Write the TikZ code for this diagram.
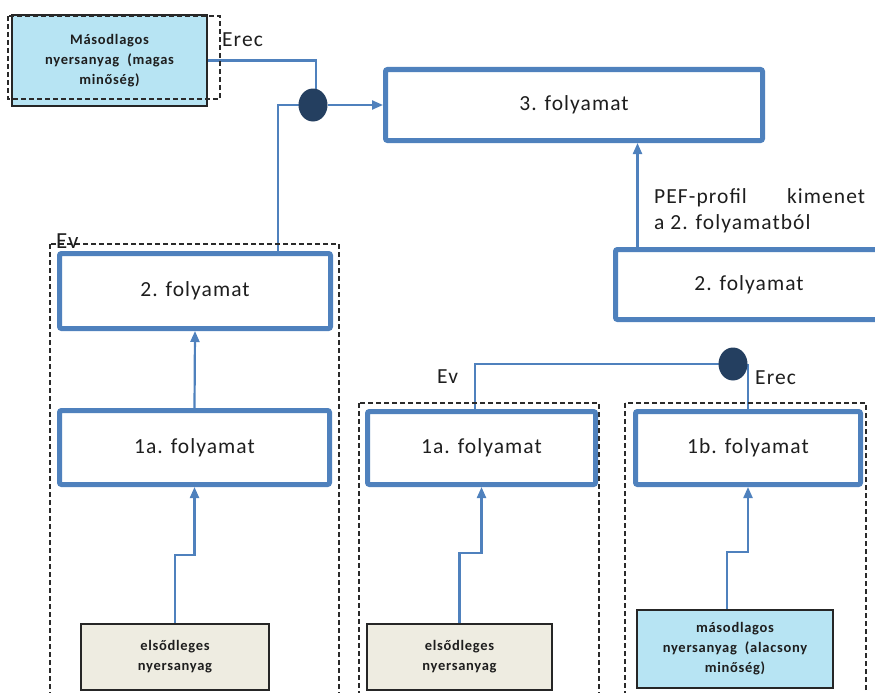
\documentclass[tikz,border=0pt]{standalone}
\usepackage{fontspec}
\setmainfont{Carlito}
\newfontfamily\procfont{Carlito}[LetterSpace=5.0]
\usetikzlibrary{arrows.meta,shapes.geometric,backgrounds}
\definecolor{procblue}{HTML}{4F81BD}
\definecolor{navy}{HTML}{243F60}
\definecolor{tanfill}{HTML}{EEECE1}
\definecolor{lblue}{HTML}{B7E4F3}
\definecolor{edge}{HTML}{262626}
\definecolor{txt}{HTML}{1E1E1E}
\definecolor{dashc}{HTML}{2A2A2A}
\begin{document}
\begin{tikzpicture}[x=1pt,y=-1pt,
  proc/.style={draw=procblue, line width=5pt, rounded corners=2pt, fill=white,
    font=\procfont\fontsize{21.5}{26}\selectfont, text=txt, inner sep=0pt},
  raw/.style={draw=edge, line width=1.5pt, fill=tanfill, text=txt, align=center,
    font=\procfont\bfseries\fontsize{14.5}{20}\selectfont, inner sep=0pt},
  junction/.style={ellipse, fill=navy, minimum width=29pt, minimum height=33pt, inner sep=0pt},
  conn/.style={draw=procblue, line width=2.2pt},
  arr/.style={conn, -{Triangle[length=11pt,width=9pt]}},
  dashbox/.style={draw=dashc, line width=1.3pt, dash pattern=on 5pt off 3pt},
  lbl/.style={font=\procfont\fontsize{21.5}{26}\selectfont, text=txt, anchor=base west, inner sep=0pt}]
\path[use as bounding box] (0,0) rectangle (875,693);
\clip (0,0) rectangle (875,693);

% process boxes
\node[proc, minimum width=377pt, minimum height=71pt] (p3) at (574,105) {3. folyamat};
\node[proc, minimum width=267pt, minimum height=70pt] (p2r) at (749,284.5) {2. folyamat};
\node[proc, minimum width=271pt, minimum height=75pt] (p2l) at (195,291) {2. folyamat};
\node[proc, minimum width=270pt, minimum height=74pt] (p1al) at (194.5,447.5) {1a. folyamat};
\node[proc, minimum width=228pt, minimum height=73pt] (p1am) at (481.5,448) {1a. folyamat};
\node[proc, minimum width=225pt, minimum height=73pt] (p1b) at (748,448) {1b. folyamat};

% raw material boxes
\node[raw, fill=lblue, minimum width=195pt, minimum height=91pt] (mhi) at (109.5,60.5)
  {Másodlagos\\nyersanyag\ \ (magas\\minőség)};
\node[raw, minimum width=188pt, minimum height=66pt] (r1) at (175,657) {elsődleges\\nyersanyag};
\node[raw, minimum width=185pt, minimum height=66pt] (r2) at (459.5,657) {elsődleges\\nyersanyag};
\node[raw, fill=lblue, minimum width=196pt, minimum height=78pt] (s2) at (735,649)
  {másodlagos\\nyersanyag\ \ (alacsony\\minőség)};

% system boundaries
\draw[dashbox] (8,16) rectangle (220,99);
\draw[dashbox] (50,244) rectangle (339,710);
\draw[dashbox] (359,403) rectangle (599,710);
\draw[dashbox] (625,403) rectangle (866,710);

% junctions
\node[junction] (j1) at (313,105) {};
\node[junction] (j2) at (733,364) {};

% labels
\node[lbl] (erec1) at (222,47) {Erec};
\node[lbl, font=\procfont\fontsize{23}{26}\selectfont] (ev1) at (56,248) {Ev};
\node[lbl] (ev2) at (437,383) {Ev};
\node[lbl] (erec2) at (755,384) {Erec};
\node[lbl] (pef1) at (654,203) {\makebox[211pt][l]{PEF-profil\hfill kimenet}};
\node[lbl] (pef2) at (654,229) {a 2. folyamatból};

% flows
\begin{pgfonlayer}{background}
\draw[conn] (mhi.east) -| ([xshift=3pt]j1.center);
\draw[conn] ([xshift=83pt]p2l.north) |- (j1.center);
\draw[arr] (j1.east) -- (p3.west);
\coordinate (c1) at ([xshift=24.5pt]p2r.north west);
\draw[arr] (c1) -- (c1 |- p3.south);
\draw[arr] (p1al.north) -- (p2l.south);
\draw[arr] (r1.north) -- ++(0,-68) -| (p1al.south);
\draw[arr] (r2.north) -- ++(0,-70) -| (p1am.south);
\draw[arr] ([xshift=-8pt]s2.north) -- ++(0,-57) -| (p1b.south);
\draw[conn] ([xshift=-6.5pt]p1am.north) |- (j2.center);
\draw[conn] (p1b.north) -- (p1b.north |- j2.center);
\end{pgfonlayer}
\end{tikzpicture}
\end{document}
